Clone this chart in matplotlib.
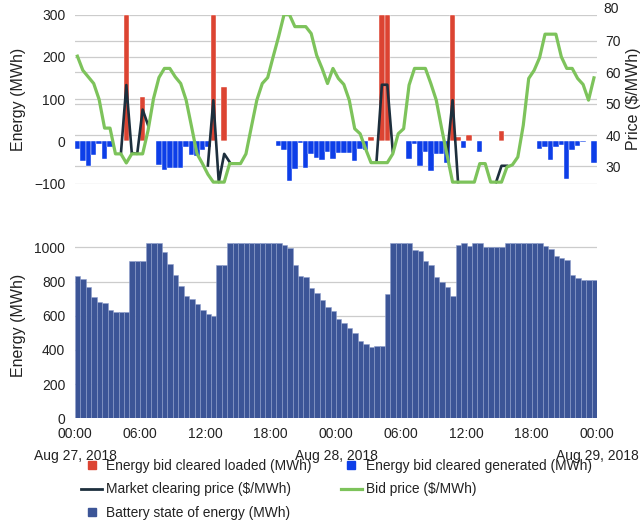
import numpy as np
import matplotlib
matplotlib.use('Agg')
import matplotlib.pyplot as plt
from matplotlib.lines import Line2D

plt.rcParams['font.family'] = ['Liberation Sans', 'DejaVu Sans']

# half-hour slots over Aug 27 - Aug 29, 2018 (hours from Aug 27 00:00)
hours = np.arange(96) * 0.5

# energy bid cleared loaded (MWh)
loaded = [0, 0, 0, 0, 0, 0, 0, 0, 0, 300,
          0, 0, 105, 0, 0, 0, 0, 0, 0, 0,
          0, 0, 0, 0, 0, 300, 0, 128, 0, 0,
          0, 0, 0, 0, 0, 0, 0, 0, 0, 0,
          0, 0, 0, 0, 0, 0, 0, 0, 0, 0,
          0, 0, 0, 0, 10, 0, 300, 300, 0, 0,
          0, 0, 0, 0, 0, 0, 0, 0, 0, 300,
          11, 0, 15, 0, 0, 0, 0, 0, 25, 0,
          0, 0, 0, 0, 0, 0, 0, 0, 0, 0,
          0, 0, 0, 0, 0, 0]

# energy bid cleared generated (MWh)
generated = [-18, -46, -58, -32, -5, -41, -13, 0, 0, 0,
             0, 0, 0, 0, 0, -55, -67, -64, -63, -62,
             -13, -33, -34, -21, -13, 0, 0, 0, 0, 0,
             0, 0, 0, 0, 0, 0, 0, -11, -20, -94,
             -65, -3, -64, -30, -40, -44, -24, -42, -28, -28,
             -27, -46, -18, -20, 0, 0, 0, 0, 0, 0,
             0, -41, -6, -58, -24, -70, -30, -30, -52, 0,
             0, -16, 0, 0, -24, 0, 0, 0, 0, 0,
             0, 0, 0, 0, 0, -18, -14, -43, -14, -8,
             -88, -20, -10, -2, 0, -50]

# bid price ($/MWh)
bid_price = [65.1, 60.6, 58.5, 56.4, 51.3, 42.2, 42.2, 34.0, 34.0, 31.1,
             34.0, 34.0, 34.0, 41.5, 51.6, 58.3, 61.2, 61.2, 58.5, 56.4,
             51.1, 42.6, 34.0, 30.9, 27.5, 25.0, 25.0, 25.0, 30.9, 30.9,
             30.9, 34.0, 42.6, 51.1, 56.4, 58.3, 64.9, 71.3, 78.3, 78.3,
             74.5, 74.5, 74.5, 72.3, 65.4, 61.2, 56.4, 61.2, 58.0, 56.1,
             51.1, 42.0, 40.4, 35.6, 31.2, 31.2, 31.2, 31.2, 34.0, 40.4,
             42.0, 55.9, 61.2, 61.2, 61.2, 56.4, 51.1, 42.0, 33.5, 25.0,
             25.0, 25.0, 25.0, 25.0, 30.9, 30.9, 25.0, 25.0, 25.0, 29.8,
             30.5, 33.0, 43.1, 58.0, 60.6, 64.6, 72.1, 72.1, 72.1, 64.9,
             61.2, 61.2, 58.0, 56.1, 51.1, 58.2]

# market clearing price ($/MWh), None where not shown
N = None
clearing_price = [N, N, N, N, N, N, N, N, 34.0, 55.9,
                  34.3, 34.0, 48.1, 43.1, N, N, N, N, N, N,
                  N, N, N, N, 30.3, 51.1, 25.0, 34.0, 31.4, N,
                  N, N, N, N, N, N, N, N, N, N,
                  N, N, N, N, N, N, N, N, N, N,
                  N, N, N, N, N, 31.3, 56.0, 56.0, 34.8, N,
                  N, N, N, N, N, N, N, N, 33.8, 51.1,
                  25.0, N, N, N, N, N, N, 25.0, 30.2, 30.2,
                  N, N, N, N, N, N, N, N, N, N,
                  N, N, N, N, N, N]

# battery state of energy (MWh)
battery = [835, 817, 771, 712, 681, 675, 634, 621, 621, 621,
           920, 920, 920, 1025, 1025, 1025, 971, 903, 839, 776,
           714, 699, 667, 632, 611, 597, 897, 897, 1025, 1025,
           1025, 1025, 1025, 1025, 1025, 1025, 1025, 1025, 1014, 994,
           899, 833, 829, 765, 734, 695, 650, 627, 584, 555,
           527, 500, 453, 436, 416, 426, 426, 728, 1025, 1025,
           1025, 1025, 985, 977, 918, 895, 825, 796, 767, 714,
           1014, 1025, 1010, 1025, 1025, 1002, 1000, 1000, 1000, 1025,
           1025, 1025, 1025, 1025, 1025, 1025, 1008, 992, 950, 936,
           928, 841, 821, 811, 810, 810]

tick_hours = [0, 6, 12, 18, 24, 30, 36, 42, 48]
tick_labels = ['00:00\nAug 27, 2018', '06:00', '12:00', '18:00',
               '00:00\nAug 28, 2018', '06:00', '12:00', '18:00',
               '00:00\nAug 29, 2018']

red = '#dc4432'
blue = '#0d3ee8'
navy = '#1d2f3d'
green = '#7dc35b'
steel = '#3c5597'
grid_col = '#cccccc'
txt = '#222222'

fig = plt.figure(figsize=(6.44, 5.21), dpi=100)
W, H = 644, 521
ax = fig.add_axes([75 / W, 1 - 183.7 / H, 522 / W, 169 / H])
ax2 = ax.twinx()
axb = fig.add_axes([75 / W, 1 - 418.3 / H, 522 / W, 176 / H])

# ---- top panel: cleared bids and prices
top_x = hours + 0.22
ax.bar(top_x, loaded, width=0.5, color=red, edgecolor='white', linewidth=0.3, zorder=2)
ax.bar(top_x, generated, width=0.5, color=blue, edgecolor='white', linewidth=0.3, zorder=2)
ax.set_ylim(-100, 300)
ax.set_yticks([-100, 0, 100, 200, 300])
ax.set_xlim(0, 48)
ax.set_xticks([])

p_lo, p_hi = 24.5, 78.3
for p in [30, 40, 50, 60, 70]:
    ax.axhline(-100 + (p - p_lo) / (p_hi - p_lo) * 400, color=grid_col, lw=0.9, zorder=0)
for e in [-100, 100, 200, 300]:
    ax.axhline(e, color=grid_col, lw=0.9, zorder=0)

cp = np.array([np.nan if v is None else v for v in clearing_price])
ax2.plot(top_x, cp, color=navy, lw=1.9, zorder=3)
ax2.plot(top_x, bid_price, color=green, lw=2.3, zorder=4)
ax2.set_ylim(p_lo, p_hi)
ax2.set_yticks([30, 40, 50, 60, 70])
ax2.text(1.012, 80, '80', transform=ax2.get_yaxis_transform(), ha='left',
         va='center', fontsize=10, color=txt, clip_on=False)

for a in (ax, ax2, axb):
    for s in a.spines.values():
        s.set_visible(False)
    a.tick_params(length=0, labelsize=10, colors=txt)
ax.tick_params(axis='y', pad=7)
ax2.tick_params(axis='y', pad=6)

ax.set_ylabel('Energy (MWh)', fontsize=11.5, color=txt)
ax.yaxis.set_label_coords(-0.094, 0.5)
ax2.set_ylabel('Price ($/MWh)', fontsize=11.5, rotation=90, color=txt)
ax2.yaxis.set_label_coords(1.056, 0.5)

# ---- bottom panel: battery state of energy
axb.bar(hours, battery, width=0.5, align='edge', color=steel,
        edgecolor='#8fa0cc', linewidth=0.4, zorder=2)
axb.set_ylim(0, 1030)
axb.set_yticks([0, 200, 400, 600, 800, 1000])
axb.set_xlim(0, 48)
axb.set_xticks(tick_hours)
axb.set_xticklabels(tick_labels, linespacing=1.75, va='top')
axb.tick_params(axis='x', pad=6)
axb.tick_params(axis='y', pad=7)
axb.grid(axis='y', color=grid_col, lw=0.9, zorder=0)
axb.set_axisbelow(True)
axb.set_ylabel('Energy (MWh)', fontsize=11.5, color=txt)
axb.yaxis.set_label_coords(-0.094, 0.53)

# ---- legend
handles = [
    Line2D([], [], marker='s', ls='none', color=red, markersize=6),
    Line2D([], [], color=navy, lw=2),
    Line2D([], [], marker='s', ls='none', color=steel, markersize=6),
    Line2D([], [], marker='s', ls='none', color=blue, markersize=6),
    Line2D([], [], color=green, lw=2.3),
]
labels = ['Energy bid cleared loaded (MWh)', 'Market clearing price ($/MWh)',
          'Battery state of energy (MWh)', 'Energy bid cleared generated (MWh)',
          'Bid price ($/MWh)']
fig.legend(handles, labels, ncol=2, loc='upper left', frameon=False,
           bbox_to_anchor=(81 / W, 1 - 459 / H), borderaxespad=0, borderpad=0,
           fontsize=9.9, handlelength=1.55, handletextpad=0.3,
           labelspacing=0.68, columnspacing=2.1, labelcolor=txt)

fig.savefig('out.png', dpi=100)
